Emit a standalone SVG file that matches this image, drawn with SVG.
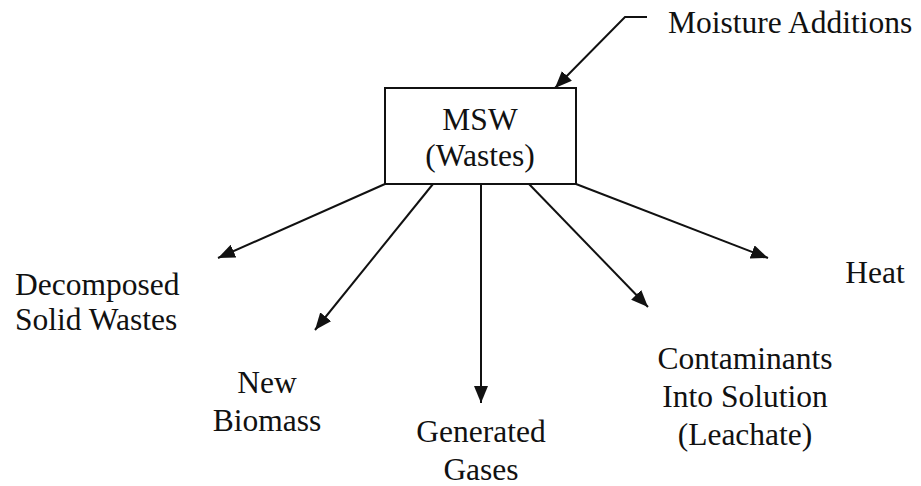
<svg xmlns="http://www.w3.org/2000/svg" width="921" height="486" viewBox="0 0 921 486">
  <style>
    .lbl { font-family: "Liberation Serif", "Times New Roman", serif; font-size: 31.5px; fill: #111; }
    .mid { text-anchor: middle; }
    .edge { stroke: #111; stroke-width: 2; fill: none; }
    .box { fill: #fff; stroke: #111; stroke-width: 2; }
  </style>
  <defs>
    <marker id="arrow" markerWidth="17" markerHeight="14" refX="17" refY="7" orient="auto" markerUnits="userSpaceOnUse">
      <path d="M0,0 L17,7 L0,14 Z" fill="#111"/>
    </marker>
  </defs>
  <rect width="921" height="486" fill="#fff"/>

  <g id="connectors">
    <path class="edge" d="M647,17 L625,17 L555,88" marker-end="url(#arrow)"/>
    <line class="edge" x1="385" y1="184" x2="218" y2="258" marker-end="url(#arrow)"/>
    <line class="edge" x1="433" y1="184" x2="315" y2="330" marker-end="url(#arrow)"/>
    <line class="edge" x1="481" y1="184" x2="481" y2="403" marker-end="url(#arrow)"/>
    <line class="edge" x1="529" y1="184" x2="648" y2="307" marker-end="url(#arrow)"/>
    <line class="edge" x1="576" y1="184" x2="768" y2="258" marker-end="url(#arrow)"/>
  </g>

  <g id="msw">
    <rect class="box" x="385" y="88" width="191" height="96"/>
    <text class="lbl mid" x="480" y="130">MSW</text>
    <text class="lbl mid" x="480" y="166">(Wastes)</text>
  </g>

  <g id="moisture">
    <text class="lbl" x="668" y="33">Moisture Additions</text>
  </g>

  <g id="decomposed">
    <text class="lbl" x="15" y="295">Decomposed</text>
    <text class="lbl" x="15" y="330">Solid Wastes</text>
  </g>

  <g id="biomass">
    <text class="lbl mid" x="267" y="393">New</text>
    <text class="lbl mid" x="267" y="431">Biomass</text>
  </g>

  <g id="gases">
    <text class="lbl mid" x="481" y="442">Generated</text>
    <text class="lbl mid" x="481" y="480">Gases</text>
  </g>

  <g id="leachate">
    <text class="lbl mid" x="745" y="369">Contaminants</text>
    <text class="lbl mid" x="745" y="407">Into Solution</text>
    <text class="lbl mid" x="745" y="445">(Leachate)</text>
  </g>

  <g id="heat">
    <text class="lbl mid" x="875" y="283">Heat</text>
  </g>
</svg>
